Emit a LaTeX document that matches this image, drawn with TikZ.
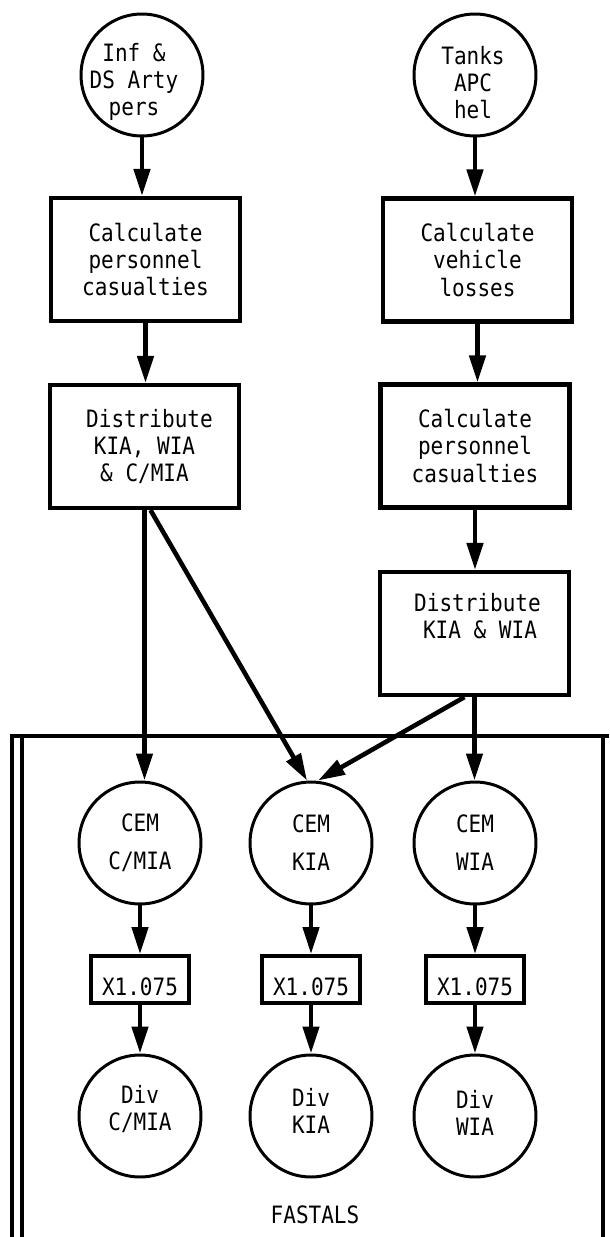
\documentclass[tikz,border=0pt]{standalone}
\usepackage{fontspec}
\setmonofont[FakeStretch=0.88]{DejaVu Sans Mono}
\usetikzlibrary{arrows.meta}
\begin{document}
\begin{tikzpicture}[x=0.02cm, y=-0.02cm,
  txt/.style={font=\ttfamily\fontsize{13.6}{15.4}\selectfont, align=center},
  flow/.style={line width=2.6pt, -{Triangle[length=0.54cm,width=0.32cm]}},
  ring/.style={draw, circle, line width=1.7pt, minimum size=2.44cm, inner sep=0pt},
  stepbox/.style={draw, rectangle, line width=2.4pt, minimum width=3.78cm,
                  minimum height=2.46cm, inner sep=0pt, txt},
  mult/.style={draw, rectangle, line width=2.2pt, minimum width=1.96cm,
               minimum height=0.94cm, inner sep=0pt},
  frameline/.style={line width=2pt},
]
\useasboundingbox (0,0) rectangle (609,1237);

% input populations
\node[ring, label={[txt, xshift=-0.16cm, yshift=-0.14cm]center:{Inf \&\\DS Arty\\pers}}] (c1) at (142,75) {};
\node[ring, label={[txt, xshift=-0.04cm, yshift=-0.16cm]center:{Tanks\\APC\\hel}}] (c2) at (475,75) {};

% personnel branch
\node[stepbox] (b1) at (145.5,259.5) {Calculate\\personnel\\casualties};
\node[stepbox] (b2) at (144.5,446.5) {\hspace*{0.2cm}Distribute\\KIA, WIA\\\& C/MIA};

% vehicle branch
\node[stepbox] (b3) at (477.5,260) {Calculate\\vehicle\\losses};
\node[stepbox] (b4) at (475,446) {Calculate\\personnel\\casualties};
\node[stepbox, label={[txt, xshift=0.06cm, yshift=0.35cm]center:{Distribute\\\hspace*{0.1cm}KIA \& WIA}}] (b5) at (474.5,633.5) {};

% FASTALS frame
\draw[frameline] (12,1237) -- (12,736) -- (609,736);
\draw[frameline] (22,1237) -- (22,736);
\draw[frameline] (603,736) -- (603,1237);

% CEM casualty circles
\node[ring, label={[txt]center:{CEM\\[0.22cm]C/MIA}}] (cem1) at (140,843) {};
\node[ring, label={[txt]center:{CEM\\[0.22cm]KIA}}] (cem2) at (311,843) {};
\node[ring, label={[txt]center:{CEM\\[0.22cm]WIA}}] (cem3) at (475,843) {};

% multipliers
\node[mult, label={[txt, yshift=-0.14cm]center:X1.075}] (m1) at (140,979.5) {};
\node[mult, label={[txt, yshift=-0.14cm]center:X1.075}] (m2) at (311,979.5) {};
\node[mult, label={[txt, yshift=-0.14cm]center:X1.075}] (m3) at (475,979.5) {};

% division casualty circles
\node[ring, label={[txt, yshift=0.14cm]center:{Div\\C/MIA}}] (d1) at (140,1116) {};
\node[ring, label={[txt, yshift=0.1cm]center:{Div\\KIA}}] (d2) at (311,1116) {};
\node[ring, label={[txt, yshift=0.06cm]center:{Div\\WIA}}] (d3) at (475,1116) {};

\node[txt] (fastals) at (315,1215) {FASTALS};

% connectors
\draw[flow] (c1.south) -- (c1.south |- b1.north);
\draw[flow] (b1.south) -- (b1.south |- b2.north);
\draw[flow] (c2.south) -- (c2.south |- b3.north);
\draw[flow] (b3.south) -- (b3.south |- b4.north);
\draw[flow] (b4.south) -- (b4.south |- b5.north);
\draw[flow] (b2.south) -- (b2.south |- cem1.north);
\draw[flow] ([xshift=0.12cm]b2.south) -- ([xshift=-0.08cm]cem2.north);
\draw[flow] ([xshift=-0.2cm]b5.south) -- ([xshift=0.14cm]cem2.north);
\draw[flow] (b5.south) -- (b5.south |- cem3.north);
\foreach \i in {1,2,3}{
  \draw[flow] (cem\i.south) -- (m\i.north);
  \draw[flow] (m\i.south) -- (d\i.north);
}
\end{tikzpicture}
\end{document}
